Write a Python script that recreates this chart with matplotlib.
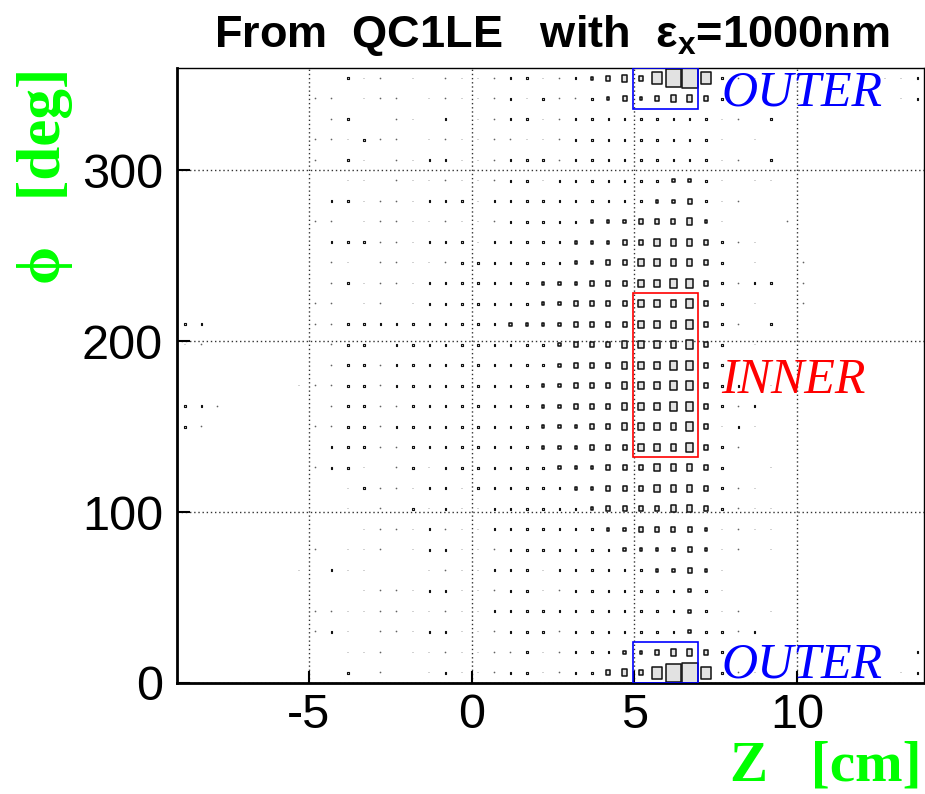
import numpy as np
import matplotlib.pyplot as plt
from matplotlib.patches import Rectangle
from matplotlib.collections import PatchCollection

plt.rcParams['mathtext.fontset'] = 'custom'
plt.rcParams['mathtext.rm'] = 'Liberation Sans'
plt.rcParams['mathtext.bf'] = 'Liberation Sans:bold'
plt.rcParams['axes.unicode_minus'] = False

# binning of the 2D histogram
z_first = -8.8      # centre of first Z bin [cm]
z_step = 0.5
phi_step = 12.0     # deg
phi_max = 360.0

# box size codes -> fraction of bin size
level_size = {'.': 0.0, '1': 0.03, '2': 0.09, '3': 0.15, '4': 0.25,
              '5': 0.35, '6': 0.42, '7': 0.6, '8': 0.75, '9': 0.88, 'X': 0.98}

# one string per phi row, top (354 deg) to bottom (6 deg), 46 Z bins each
rows = [
    "..... ..... 211.1 .1111 22112 34547 9X721 1.... ...11 2",
    "..... ...11 .111. 11111 21211 23434 5542. ..... ....1 2",
    "..... ....1 2..11 .2.11 22112 22222 22211 .2... ..... .",
    "..... ...11 1211. 11111 11112 22222 2221. 1.... ..... .",
    "..... ...1. 21.11 22111 22212 22222 22211 .2... ..... .",
    "..... ..... 11.11 11111 22122 22222 3321. 11... ..... .",
    "..... ....2 21111 22212 22222 22223 34211 ..... ..... .",
    "..... ...11 .1111 11111 22222 33344 4531. ..1.. ..... .",
    "..... ....2 22111 22212 22223 33445 55421 1.... ..... .",
    "..... ....1 1.111 11222 22223 34455 5542. 1..1. ..... .",
    "..... ....1 21111 22222 22333 44455 66421 22.1. ..... .",
    "..... ...11 .11.1 22222 22334 44455 5642. 1..1. ..... .",
    "22... ...11 22222 22222 33334 44455 56421 .2... ..... .",
    "11... ....1 22.22 22222 22234 44555 5642. 1.... ..... .",
    "..... ....1 22122 22222 22234 44555 6642. ..... ..... .",
    "..... ..111 22122 22222 22334 44555 66422 .1... ..... .",
    "221.. ....1 22112 22222 22334 44555 66421 2.... ..... .",
    "21... ...11 22122 22222 22333 44555 56412 1.... ..... .",
    "..... ....2 22112 22222 22333 44455 56421 ..... ..... .",
    "..... ...12 21.12 12222 22233 34445 5542. .1... ..... .",
    "..... ..... 12111 22122 22223 34445 55421 1.... ..... .",
    "..... ..... 1.1.2 12112 22222 34444 55421 11... ..... .",
    "..... ..... .1111 21112 22222 23344 44311 11... ..... .",
    "..... ...1. 111.1 22111 22222 22333 34311 .1... ..... .",
    "..... ..1.2 11... 11112 22122 22223 3431. ..... ..... .",
    "..... ..... .1111 22111 22112 22222 2321. ..... ..... .",
    "..... ...11 11111 11112 22222 22222 23211 .1... ..... .",
    "..... ...12 1.111 22111 22212 22222 23221 2.... ..... .",
    "..... ..... 111.1 11111 12112 22334 5542. ..... ..... 2",
    "..... ..... 2.1.. 12111 22112 24547 9X721 1.... ....1 2",
]

fig = plt.figure(figsize=(9.25, 7.94), dpi=100)
ax = fig.add_axes([177/925, 1-683/794, (924-177)/925, (683-68)/794])

rects = []
lws = []
for j, row in enumerate(rows):
    cells = row.replace(' ', '')
    phi = phi_max - phi_step*(j + 0.5)
    for k, c in enumerate(cells):
        v = level_size[c]
        if v == 0:
            continue
        z = z_first + k*z_step
        w = v*z_step
        h = v*phi_step
        rects.append(Rectangle((z - w/2, phi - h/2), w, h))
        lws.append(min(1.1, max(0.25, v*9)))
ax.add_collection(PatchCollection(rects, facecolor='#e2e2e2', edgecolor='#111111',
                                  linewidths=lws, zorder=2))

# region boxes
ax.add_patch(Rectangle((4.95, 336), 2.0, 24, fill=False, edgecolor='blue', lw=1.2, zorder=3))
ax.add_patch(Rectangle((4.95, 0), 2.0, 24, fill=False, edgecolor='blue', lw=1.2, zorder=3))
ax.add_patch(Rectangle((4.95, 132), 2.0, 96, fill=False, edgecolor='red', lw=1.2, zorder=3))

ax.text(7.68, 338, 'OUTER', color='blue', fontsize=36, style='italic',
        family='Liberation Serif', va='baseline', zorder=4)
ax.text(7.68, 170, 'INNER', color='red', fontsize=36, style='italic',
        family='Liberation Serif', va='baseline', zorder=4)
ax.text(7.68, 3, 'OUTER', color='blue', fontsize=36, style='italic',
        family='Liberation Serif', va='baseline', zorder=4, clip_on=False)

ax.set_xlim(-9.05, 13.9)
ax.set_ylim(0, 360)
ax.set_xticks([-5, 0, 5, 10])
ax.set_yticks([0, 100, 200, 300])
ax.grid(True, linestyle=(0, (1, 2)), color='#333333', linewidth=1.0, zorder=1)
ax.tick_params(direction='in', length=9, width=1.5, labelsize=35, top=False, right=False)
ax.tick_params(axis='y', pad=10)
ax.tick_params(axis='x', pad=7)
for lab in ax.get_xticklabels() + ax.get_yticklabels():
    lab.set_family('Liberation Sans')
ax.spines['left'].set_linewidth(2)
ax.spines['bottom'].set_linewidth(2)
ax.spines['top'].set_linewidth(1)
ax.spines['right'].set_linewidth(1)

fig.text(552/925, 1-47/794, r'From  QC1LE   with  ε$_\mathbf{x}$=1000nm', ha='center',
         va='baseline', fontsize=32.5, fontweight='bold', family='Liberation Sans')
fig.text(921/925, 1-781/794, 'Z   [cm]', ha='right', va='baseline', color='#00ff00',
         fontsize=41, fontweight='bold', family='Liberation Serif')
fig.text(45/925, 1-68/794, 'ϕ   [deg]', rotation=90, ha='center', va='top', color='#00ff00',
         fontsize=44, fontweight='bold', family=['Liberation Serif', 'DejaVu Serif'])

fig.savefig('out.png', dpi=100)
